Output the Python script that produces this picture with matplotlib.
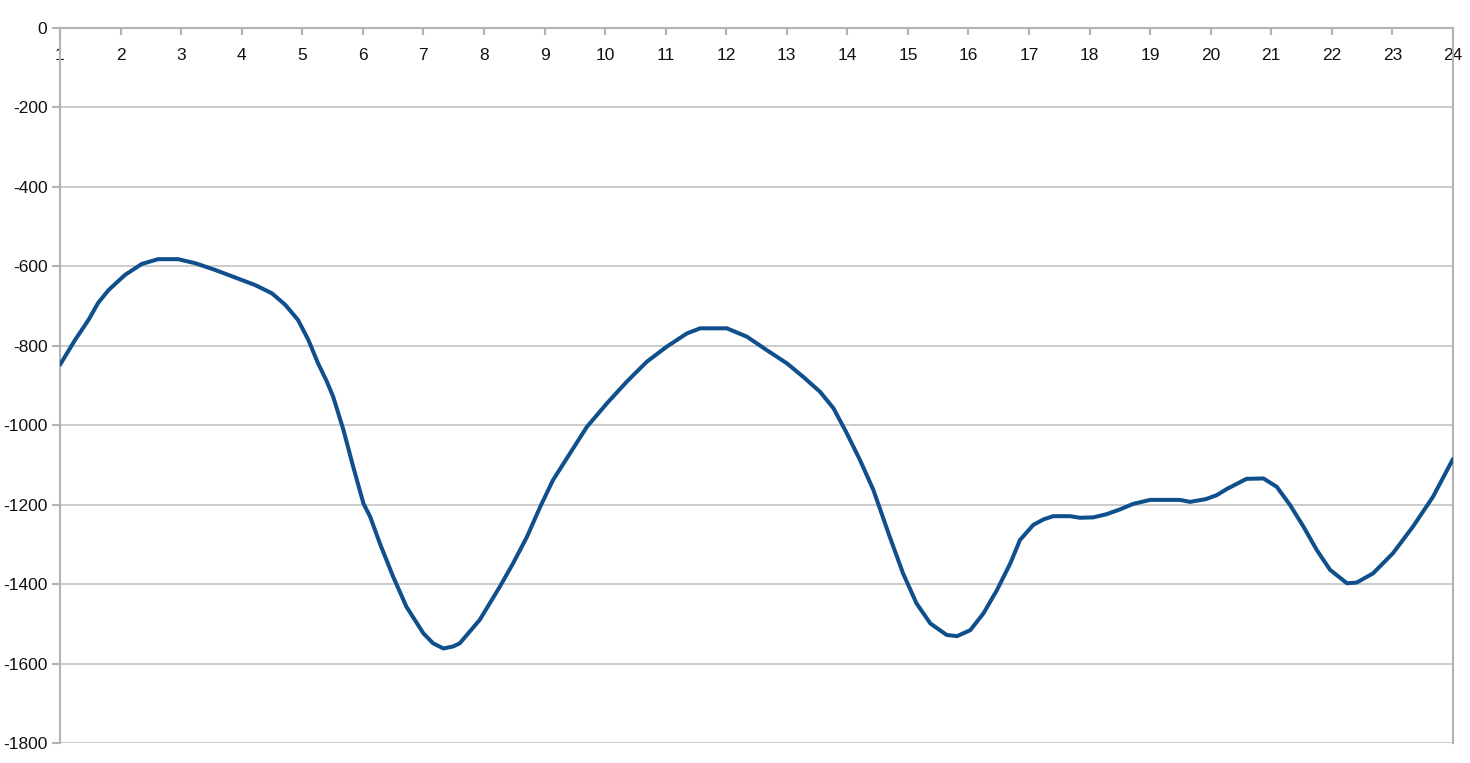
import numpy as np
import matplotlib
matplotlib.use("Agg")
from matplotlib import pyplot as plt

# valeurs (heure, valeur)
heures = [1.00, 1.25, 1.47, 1.63, 1.80, 2.07, 2.35, 2.62, 2.95, 3.23, 3.56, 3.89, 4.22,
          4.50, 4.72, 4.93, 5.10, 5.26, 5.40, 5.51, 5.68, 5.84, 6.01, 6.12, 6.28, 6.50,
          6.72, 7.00, 7.16, 7.33, 7.49, 7.60, 7.93, 8.26, 8.48, 8.71, 8.93, 9.14, 9.42,
          9.70, 10.03, 10.36, 10.69, 11.02, 11.35, 11.57, 12.01, 12.34, 12.67, 13.00,
          13.27, 13.55, 13.77, 13.99, 14.21, 14.43, 14.70, 14.92, 15.14, 15.37, 15.64,
          15.81, 16.03, 16.25, 16.47, 16.69, 16.85, 17.07, 17.24, 17.40, 17.68, 17.84,
          18.06, 18.28, 18.50, 18.72, 19.00, 19.49, 19.66, 19.92, 20.10, 20.26, 20.59,
          20.87, 21.09, 21.31, 21.53, 21.75, 21.97, 22.25, 22.41, 22.68, 23.01, 23.34,
          23.67, 24.00]
valeurs = [-848, -785, -735, -692, -660, -622, -594, -582, -582, -592, -609, -628, -647,
           -668, -697, -735, -785, -844, -888, -928, -1012, -1104, -1197, -1230, -1297,
           -1381, -1457, -1524, -1549, -1562, -1557, -1549, -1490, -1407, -1348, -1281,
           -1205, -1138, -1071, -1004, -945, -890, -840, -802, -769, -756, -756, -777,
           -811, -844, -878, -916, -957, -1020, -1088, -1163, -1281, -1373, -1448, -1499,
           -1528, -1531, -1516, -1473, -1415, -1348, -1289, -1251, -1237, -1229, -1229,
           -1233, -1232, -1224, -1212, -1198, -1188, -1188, -1193, -1186, -1176, -1161,
           -1135, -1134, -1155, -1201, -1255, -1314, -1364, -1398, -1396, -1373, -1322,
           -1255, -1180, -1085]

xticks = list(range(1, 25))
yticks = list(range(0, -2000, -200))

plt.rcParams['font.family'] = ['Liberation Sans', 'DejaVu Sans']

fig = plt.figure(figsize=(14.7, 7.63), dpi=100)
ax = fig.add_axes([60/1470, 1-743/763, (1453-60)/1470, (743-28)/763])

ax.plot(heures, valeurs, color="#0f4f8c", linewidth=2.9, solid_capstyle="round",
        solid_joinstyle="round", zorder=3)

ax.set_xlim(1, 24)
ax.set_ylim(-1800, 0)
ax.set_xticks(xticks)
ax.set_yticks(yticks)
ax.set_yticklabels([str(v) for v in yticks])

ax.yaxis.grid(True, color="#c8c8c8", linewidth=1.3)
ax.set_axisbelow(True)

for s in ("left", "right", "top"):
    ax.spines[s].set_color("#b3b3b3")
    ax.spines[s].set_linewidth(1.5)
ax.spines["bottom"].set_visible(False)

ax.tick_params(axis="x", which="both", bottom=False, labelbottom=False, top=True,
               labeltop=True, direction="in", length=5, width=1.5, color="#b3b3b3",
               pad=-25, labelsize=12.5, labelcolor="#111111")
ax.tick_params(axis="y", which="both", left=True, right=False, direction="out",
               length=6, width=1.5, color="#b3b3b3", pad=3, labelsize=12.5,
               labelcolor="#111111")

fig.savefig("out.png", dpi=100)
